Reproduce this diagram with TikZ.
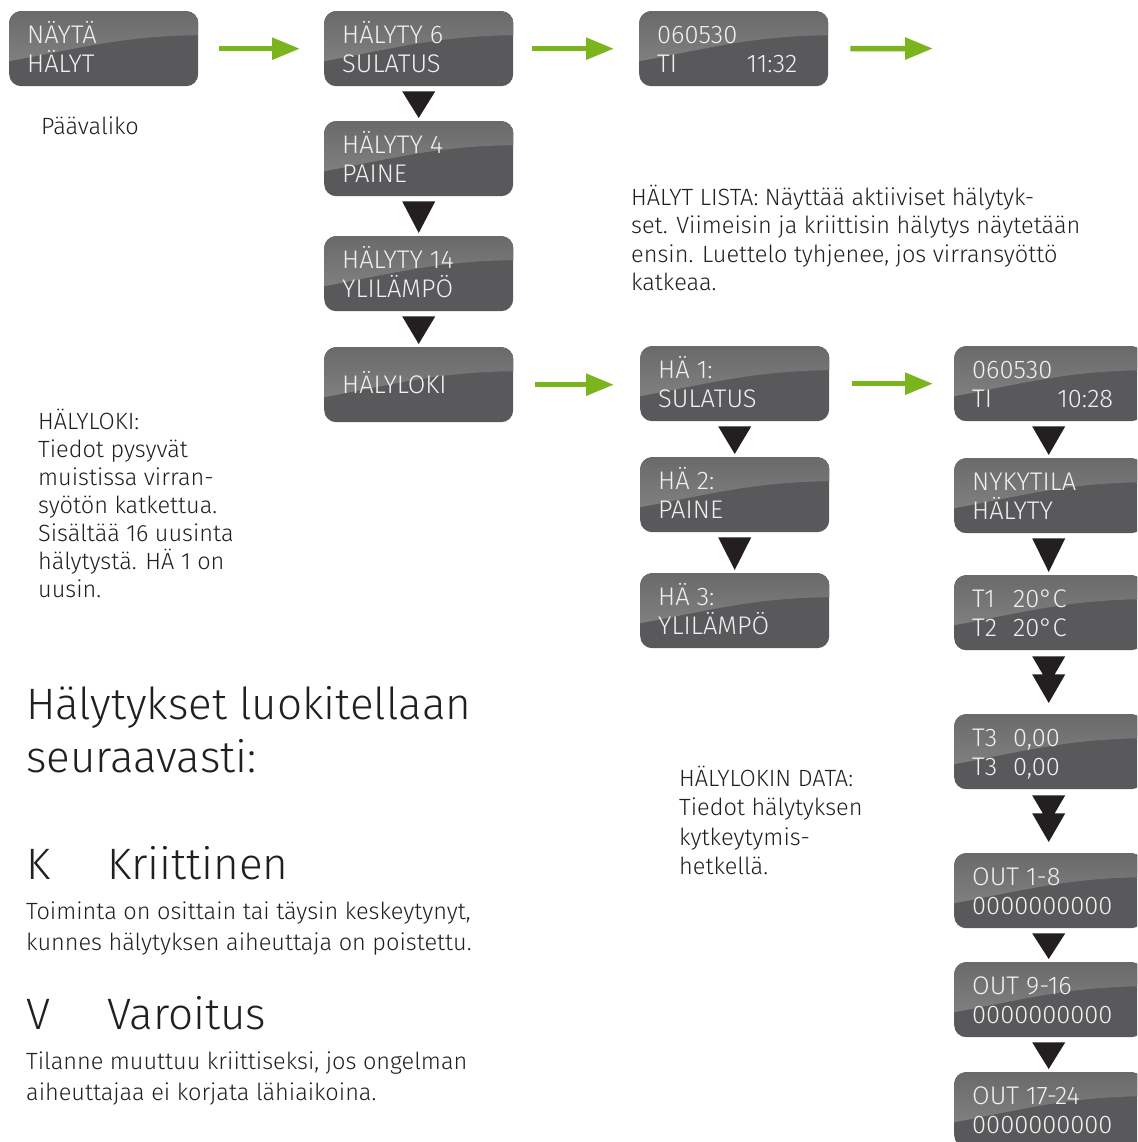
\documentclass[tikz,border=0pt]{standalone}
\usepackage{fontspec}
\setmainfont{Fira Sans}[UprightFont={* Light}]
\usetikzlibrary{calc,arrows.meta}
\definecolor{lcdlow}{RGB}{89,89,91}
\definecolor{lcdtop}{RGB}{106,106,107}
\definecolor{lcdmid}{RGB}{138,138,139}
\definecolor{lcdtext}{RGB}{240,240,240}
\definecolor{arrgreen}{RGB}{122,181,29}
\definecolor{ink}{RGB}{35,31,32}
\newcommand\twol[2]{\vbox to 75pt{\offinterlineskip\kern32pt
  \setbox0\hbox to 153pt{#1\hss}\ht0=0pt \dp0=0pt \box0
  \kern29pt
  \setbox0\hbox to 153pt{#2\hss}\ht0=0pt \dp0=0pt \box0
  \vss}}
\newcommand\onel[1]{\vbox to 75pt{\offinterlineskip\kern46pt
  \setbox0\hbox to 153pt{#1\hss}\ht0=0pt \dp0=0pt \box0
  \vss}}
\newcommand\txtlines[2]{\vtop{\baselineskip=#1\lineskip=0pt\lineskiplimit=-100pt\halign{##\hfil\cr#2\crcr}}}
\newcommand\downtri[2]{\fill[tri] ($(#1.south)+(-16.5,-5)$) -- ($(#1.south)+(16.5,-5)$) -- ($(#2.north)+(0,3)$) -- cycle;}
\newcommand\dbltri[2]{\fill[tri] ($(#1.south)+(-16.5,-6)$) -- ($(#1.south)+(16.5,-6)$) -- ($(#1.south)+(5.9,-24)$) -- ($(#1.south)+(16.5,-24)$) -- ($(#2.north)+(0,11)$) -- ($(#1.south)+(-16.5,-24)$) -- ($(#1.south)+(-5.9,-24)$) -- cycle;}
\begin{document}
\begin{tikzpicture}[x=1pt,y=1pt,
  lcd/.style={anchor=north west, minimum width=189pt, minimum height=75pt,
    inner ysep=0pt, inner xsep=18pt, rounded corners=12pt, fill=lcdlow,
    text=lcdtext, font=\fontsize{25.5}{29}\selectfont,
    path picture={\fill[sharp corners, top color=lcdtop, bottom color=lcdmid]
      (path picture bounding box.north west) -- (path picture bounding box.north east)
      -- ([yshift=-24pt]path picture bounding box.north east)
      .. controls ([xshift=-75pt,yshift=-25pt]path picture bounding box.north east)
      and ([xshift=75pt,yshift=-36pt]path picture bounding box.north west)
      .. ([yshift=-50pt]path picture bounding box.north west) -- cycle;}},
  tri/.style={fill=ink},
  garrow/.style={draw=arrgreen, line width=5.5pt, -{Triangle[length=28pt,width=21pt]}},
  body/.style={anchor=base west, inner sep=0pt, text=ink, font=\fontsize{23.5}{28}\selectfont},
  big/.style={anchor=base west, inner sep=0pt, text=ink, font=\fontsize{44}{53}\selectfont}]
\useasboundingbox (0,0) rectangle (1137,-1142);
\fill[white] (0,0) rectangle (1137,-1142);
\clip (0,0) rectangle (1137,-1142);
% top row
\node[lcd] (b0) at (9,-11) {\twol{NÄYTÄ}{HÄLYT}};
\node[lcd] (b1) at (324,-11) {\twol{HÄLYTY 6}{SULATUS}};
\node[lcd] (b2) at (639,-11) {\twol{060530}{TI\hfill 11:32\hspace*{13pt}}};
\coordinate (bend) at (933,-48.5);
% column 1
\node[lcd] (c1) at (324,-121) {\twol{HÄLYTY 4}{PAINE}};
\node[lcd] (c2) at (324,-236) {\twol{HÄLYTY 14}{YLILÄMPÖ}};
\node[lcd] (c3) at (324,-347) {\onel{HÄLYLOKI}};
% column 2
\node[lcd] (d1) at (640,-346) {\twol{HÄ 1:}{SULATUS}};
\node[lcd] (d2) at (640,-457) {\twol{HÄ 2:}{PAINE}};
\node[lcd] (d3) at (640,-573) {\twol{HÄ 3:}{YLILÄMPÖ}};
% column 3
\node[lcd] (e1) at (954,-346) {\twol{060530}{TI\hfill 10:28\hspace*{12pt}}};
\node[lcd] (e2) at (954,-458) {\twol{NYKYTILA}{HÄLYTY}};
\node[lcd] (e3) at (954,-575) {\twol{\makebox[41pt][l]{T1}20°C}{\makebox[41pt][l]{T2}20°C}};
\node[lcd] (e4) at (954,-714) {\twol{\makebox[41pt][l]{T3}0,00}{\makebox[41pt][l]{T3}0,00}};
\node[lcd] (e5) at (954,-853) {\twol{OUT 1-8}{0000000000}};
\node[lcd] (e6) at (954,-962) {\twol{OUT 9-16}{0000000000}};
\node[lcd] (e7) at (954,-1072) {\twol{OUT 17-24}{0000000000}};
% green arrows
\draw[garrow, shorten <=21pt, shorten >=24pt] (b0.east) -- (b1.west);
\draw[garrow, shorten <=19pt, shorten >=25pt] (b1.east) -- (b2.west);
\draw[garrow, shorten <=22pt] (b2.east) -- (bend);
\draw[garrow, shorten <=22pt, shorten >=26pt] (c3.east) -- (c3.east -| d1.west);
\draw[garrow, shorten <=23pt, shorten >=21pt] (d1.east) -- (e1.west);
% black triangles
\downtri{b1}{c1}
\downtri{c1}{c2}
\downtri{c2}{c3}
\downtri{d1}{d2}
\downtri{d2}{d3}
\downtri{e1}{e2}
\downtri{e2}{e3}
\dbltri{e3}{e4}
\dbltri{e4}{e5}
\downtri{e5}{e6}
\downtri{e6}{e7}
% texts
\node[body] (t0) at (41,-135) {Päävaliko};
\node[body] (t1) at (38,-429) {\txtlines{28pt}{HÄLYLOKI:\cr Tiedot pysyvät\cr muistissa virran-\cr syötön katkettua.\cr Sisältää 16 uusinta\cr hälytystä. HÄ 1 on\cr uusin.}};
\node[body] (t2) at (631,-205) {\txtlines{28.5pt}{HÄLYT LISTA: Näyttää aktiiviset hälytyk-\cr set. Viimeisin ja kriittisin hälytys näytetään\cr ensin. Luettelo tyhjenee, jos virransyöttö\cr katkeaa.}};
\node[body] (t3) at (679,-786) {\txtlines{29.5pt}{HÄLYLOKIN DATA:\cr Tiedot hälytyksen\cr kytkeytymis-\cr hetkellä.}};
\node[big] (h1) at (26,-719) {\txtlines{53pt}{Hälytykset luokitellaan\cr seuraavasti:}};
\node[big] (k1) at (26,-879) {K};
\node[big] (k2) at (107,-879) {Kriittinen};
\node[body] (k3) at (26,-919) {\txtlines{31pt}{Toiminta on osittain tai täysin keskeytynyt,\cr kunnes hälytyksen aiheuttaja on poistettu.}};
\node[big] (v1) at (26,-1029) {V};
\node[big] (v2) at (107,-1029) {Varoitus};
\node[body] (v3) at (26,-1069) {\txtlines{31pt}{Tilanne muuttuu kriittiseksi, jos ongelman\cr aiheuttajaa ei korjata lähiaikoina.}};
\end{tikzpicture}
\end{document}
